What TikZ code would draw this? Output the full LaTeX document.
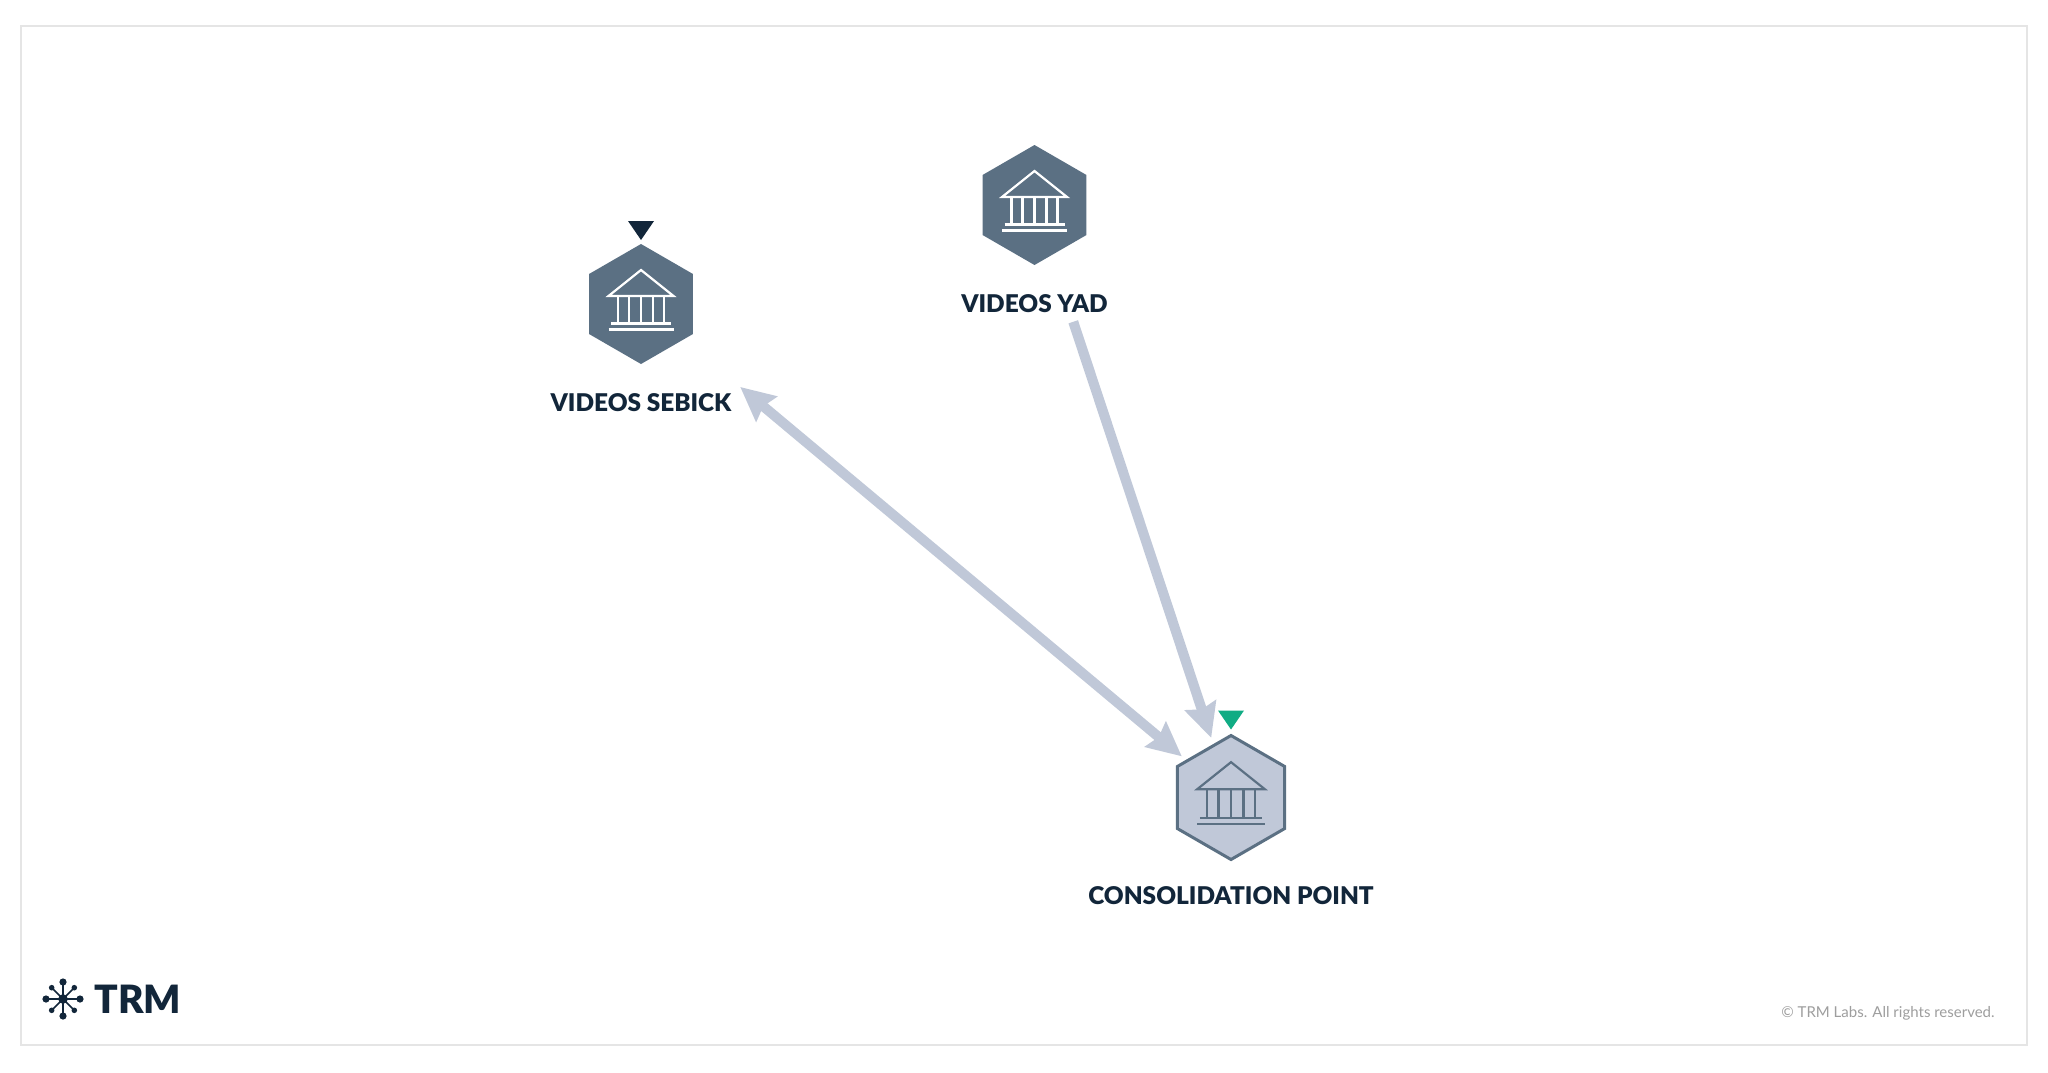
\documentclass[tikz,border=0pt]{standalone}
\usepackage{xcolor}
\usepackage{fontspec}
\setmainfont{Lato}
\newfontfamily\heavyfont{Lato Black}
\usetikzlibrary{positioning,arrows.meta,shapes.geometric}
\definecolor{slate}{HTML}{5B7083}
\definecolor{mist}{HTML}{C0C8D8}
\definecolor{ink}{HTML}{12263A}
\definecolor{mint}{HTML}{10AC84}
\begin{document}
\begin{tikzpicture}[
  x=0.5pt, y=-0.5pt,
  hexa/.style={regular polygon, regular polygon sides=6, shape border rotate=30, minimum size=60pt, inner sep=0pt, outer sep=0pt, fill=slate},
  hexb/.style={hexa, minimum size=62pt, fill=mist, draw=slate, line width=1.5pt},
  flag/.style={isosceles triangle, isosceles triangle stretches, shape border rotate=270, minimum width=13pt, minimum height=9.5pt, inner sep=0pt, outer sep=0pt, fill=#1},
  lbl/.style={font=\heavyfont\fontsize{12.2}{13}\selectfont, text=ink, inner sep=0pt},
  arr/.style={mist, line width=5pt, -{Stealth[length=17pt,width=16pt,inset=2pt]}},
  bank/.pic={
    \draw[#1, line width=1.1pt, line join=miter] (-32.5,-8) -- (0,-34) -- (32.5,-8) -- cycle;
    \foreach \px in {-23,-12,0,12,23} \draw[#1, line width=1.1pt] (\px,-7) -- (\px,19);
    \draw[#1, line width=1.1pt] (-30,19.5) -- (30,19.5);
    \draw[#1, line width=1.1pt] (-32.5,25.5) -- (32.5,25.5);
  }
]
\useasboundingbox (0,0) rectangle (2048,1072);
\path[fill=white] (0,0) rectangle (2048,1072);
\draw[black!10, line width=0.8pt] (21,26) rectangle (2027,1045);

\node[hexa] (sebick) at (641,304) {};
\node[hexa] (yad) at (1034.5,205) {};
\node[hexb] (point) at (1231,797.5) {};

\pic at (sebick) {bank=white};
\pic at (yad) {bank=white};
\pic[scale=1.04] at (point) {bank=slate};

\node[flag=ink, above=2pt of sebick] (sebickflag) {};
\node[flag=mint, above=3pt of point] (pointflag) {};

\node[lbl, below=14.5pt of sebick] (sebicklabel) {VIDEOS SEBICK};
\node[lbl, below=14.5pt of yad] (yadlabel) {VIDEOS YAD};
\node[lbl, below=13.5pt of point] (pointlabel) {CONSOLIDATION POINT};

\draw[arr, {Stealth[length=17pt,width=16pt,inset=2pt]}-{Stealth[length=17pt,width=16pt,inset=2pt]}, shorten <=37pt, shorten >=3.5pt] (sebick) -- (point);
\draw[arr, shorten <=35pt, shorten >=4pt] (yad) -- (point);

% logo
\coordinate (hub) at (63,999);
\foreach \ang in {0,90,180,270} {
  \draw[ink, line width=0.8pt] (hub) -- ++(\ang:17);
  \fill[ink] (hub) ++(\ang:17) circle (1.8pt);
}
\foreach \ang in {45,135,225,315} {
  \draw[ink, line width=0.8pt] (hub) -- ++(\ang:16);
  \fill[ink] (hub) ++(\ang:16) circle (1.4pt);
}
\fill[ink] (hub) circle (2.4pt);
\node[font=\heavyfont\fontsize{19.5}{21}\selectfont, text=ink, inner sep=0pt, right=15.5pt of hub] (trm) {TRM};
\node[font=\fontsize{7.5}{9}\selectfont, text=black!38, inner sep=0pt, anchor=base east] (rights) at (1995,1017) {© TRM Labs. All rights reserved.};
\end{tikzpicture}
\end{document}
